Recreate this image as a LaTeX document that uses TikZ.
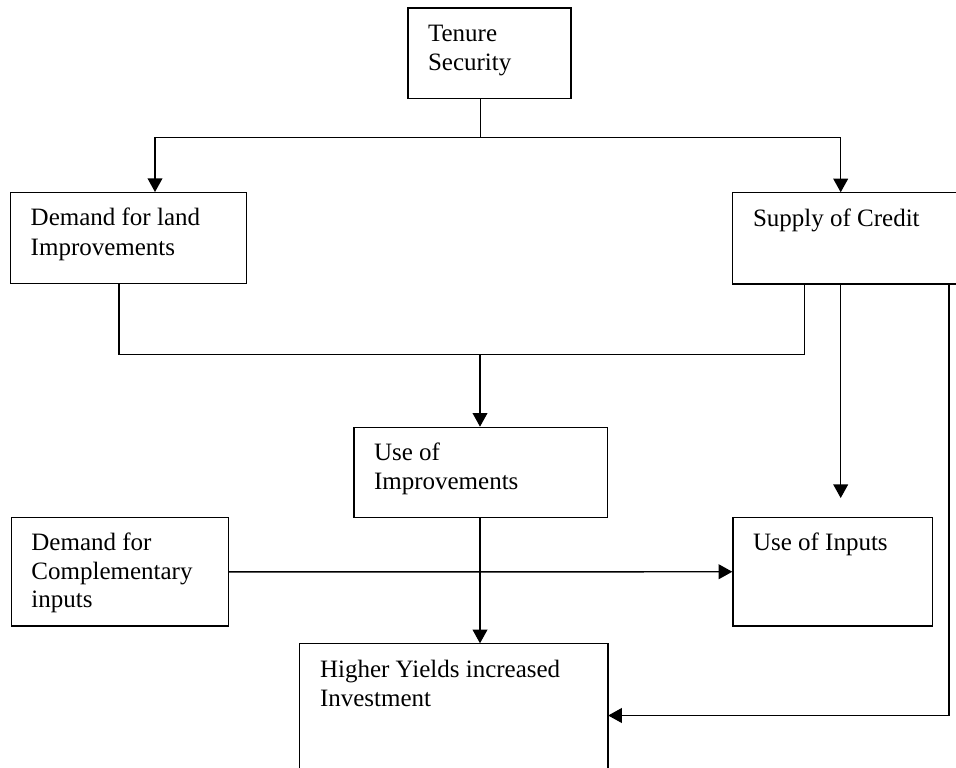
\documentclass[tikz,border=0pt]{standalone}
\usepackage{fontspec}
\setmainfont{Liberation Serif}
\usetikzlibrary{arrows.meta}
\newcommand\boxtext[3]{\parbox[c][\dimexpr#2pt*3/4\relax][t]{\dimexpr#1pt*3/4\relax}{\leftskip=15pt\relax\rule{0pt}{24.75pt}#3}}
\begin{document}
\begin{tikzpicture}[x=0.75pt,y=-0.75pt,
  box/.style={draw, line width=1.1pt, inner sep=0pt, anchor=north west,
    font=\fontsize{18.75pt}{22pt}\selectfont},
  openbox/.style={box, draw=none},
  ln/.style={line width=1.1pt},
  arr/.style={line width=1.1pt, -{Triangle[length=10.2pt,width=11pt]}}]
\useasboundingbox (0,0) rectangle (956,767);
\fill[white] (0,0) rectangle (956,767);

\node[box] (ts) at (407.3,7.3) {\boxtext{163}{90.4}{Tenure\\Security}};
\node[box] (dl) at (10,192) {\boxtext{236}{90.5}{Demand for land\\Improvements}};
\node[openbox] (sc) at (732.3,192.3) {\boxtext{224}{90.4}{Supply of Credit}};
\node[box] (ui) at (353.3,426.7) {\boxtext{253.4}{90.3}{Use of\\Improvements}};
\node[box, font=\fontsize{18.75pt}{21.3pt}\selectfont] (dc) at (10.7,517) {\boxtext{217}{108.3}{Demand for\\Complementary\\inputs}};
\node[box] (uin) at (732.3,516.7) {\boxtext{199.4}{108.6}{Use of Inputs}};
\node[openbox] (hy) at (299.3,643.3) {\boxtext{307.4}{124}{Higher Yields increased\\Investment}};

\draw[ln] (sc.south east) -- (sc.south west) -- (sc.north west) -- (sc.north east);
\draw[ln] (hy.south west) -- (hy.north west) -- (hy.north east) -- (hy.south east);

\coordinate (jT) at (480.3,137.7);
\coordinate (jM) at (480,354.3);
\coordinate (xA) at (155,0);
\coordinate (xB) at (840.7,0);
\coordinate (xC) at (119,0);
\coordinate (xD) at (804.7,0);
\coordinate (xF) at (949,0);
\coordinate (yG) at (0,715.5);

\draw[ln] (ts.south -| jT) -- (jT);
\draw[arr] (jT) -| (dl.north -| xA);
\draw[arr] (jT) -| (sc.north -| xB);
\draw[ln] (dl.south -| xC) |- (jM) -| (sc.south -| xD);
\draw[arr] (jM) -- (ui.north -| jM);
\draw[arr] (ui.south -| jM) -- (hy.north -| jM);
\draw[arr, shorten >=14pt] (sc.south -| xB) -- (uin.north -| xB);
\draw[arr] (dc.east) -- (uin.west);
\draw[arr] (sc.south -| xF) |- (hy.east |- yG);
\end{tikzpicture}
\end{document}
